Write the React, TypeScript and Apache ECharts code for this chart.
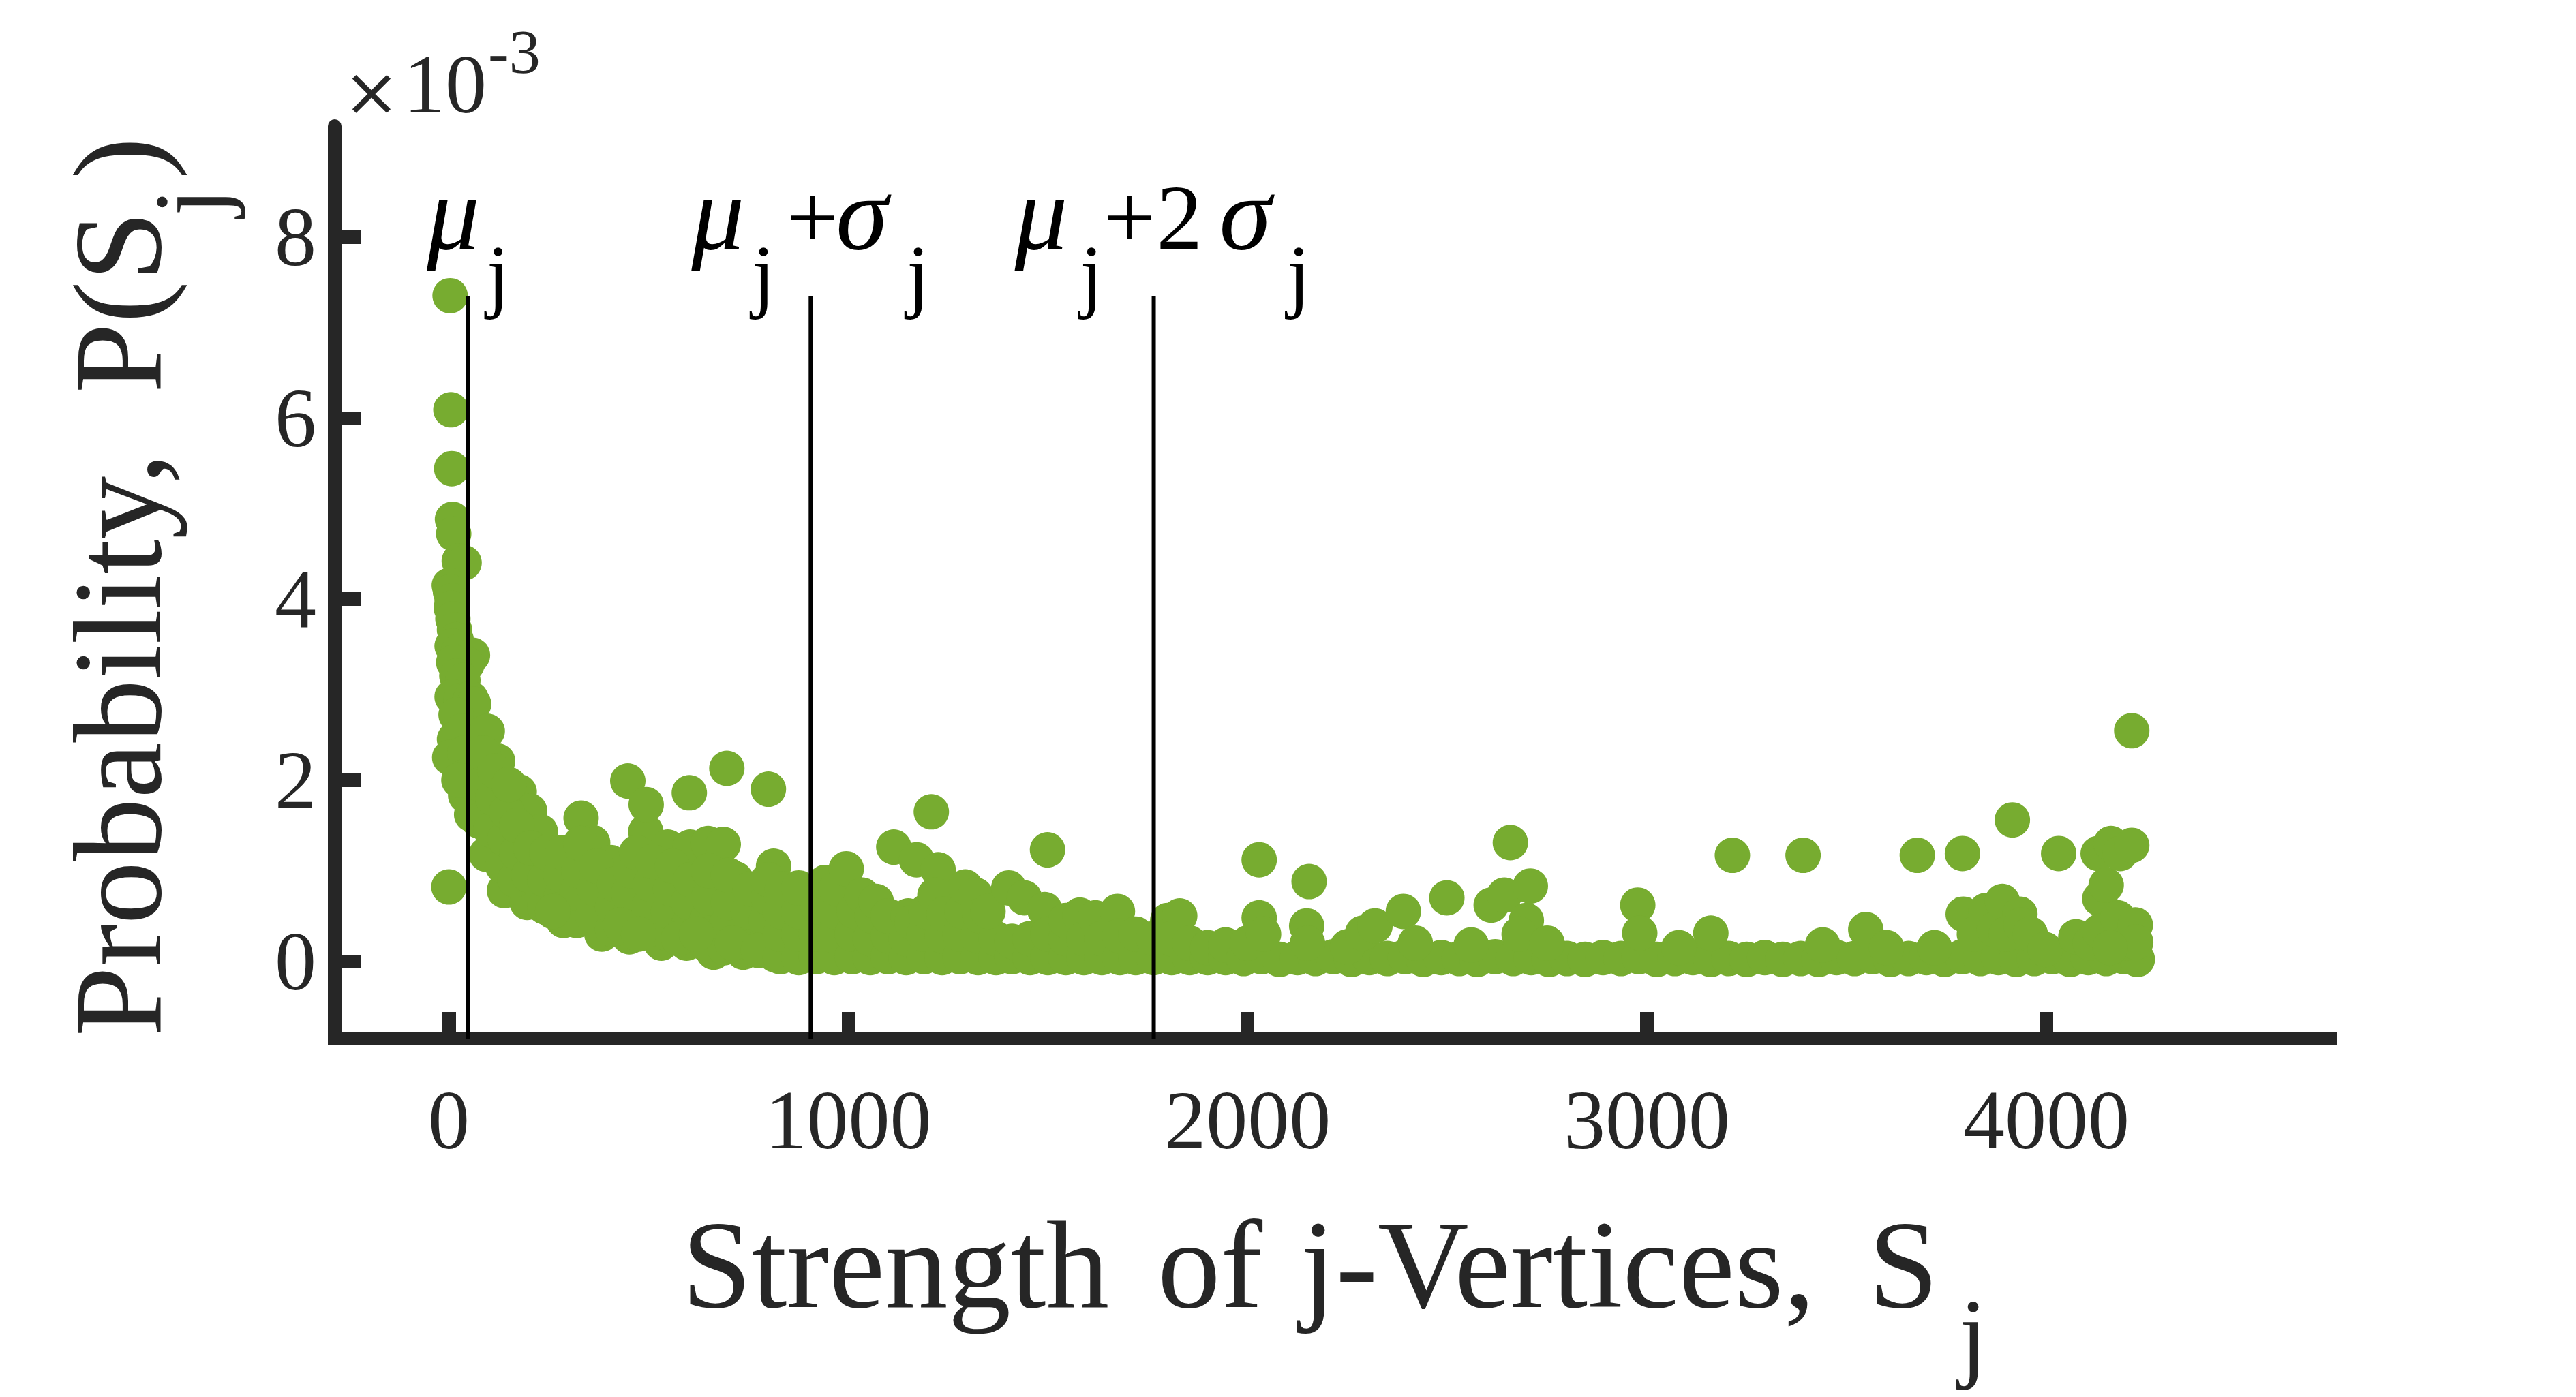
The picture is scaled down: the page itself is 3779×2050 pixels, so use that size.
import React, { useEffect, useRef } from "react";
import * as echarts from "echarts";

// ---------------- data ----------------
const xTickValues = [0, 1000, 2000, 3000, 4000];
const yTickValues = [0, 2, 4, 6, 8]; // ×10^-3
const xRange = [-286, 4712];
const yRange = [-0.854, 9.223];
const muJ = 47;
const sigmaJ = 859;
const lineTopValue = 7.35;

// [strength S_j, probability P(S_j) ×10^-3]
const headColumn = [
  [3, 7.35], [5, 6.09], [7, 5.44], [9, 4.88], [12, 4.72], [26, 4.42], [38, 4.4], [1, 4.15],
  [4, 4.08], [8, 3.98], [6, 3.9], [10, 3.78], [14, 3.66], [18, 3.55], [8, 3.48], [24, 3.42],
  [59, 3.38], [45, 3.28], [12, 3.3], [20, 3.15], [35, 3.1], [8, 2.92], [30, 2.88], [55, 2.9],
  [62, 2.84], [18, 2.72], [31, 2.54], [14, 2.45], [2, 2.25], [40, 2.3], [70, 2.15], [45, 2.05],
  [57, 1.83], [42, 1.83], [57, 1.62], [25, 2.0], [0, 0.82],
];

const decayBand = [
  [96, 2.54], [122, 2.21], [176, 1.87], [202, 1.66], [229, 1.43], [331, 1.58], [360, 1.31],
  [405, 1.09], [493, 1.43], [548, 1.26], [604, 1.26], [649, 1.3], [687, 1.29], [717, 0.91],
  [813, 1.05],
  [94, 1.18], [139, 0.78], [196, 0.65], [287, 0.45], [383, 0.3], [452, 0.27], [532, 0.2],
  [595, 0.2], [663, 0.1], [737, 0.1], [817, 0.07],
  [75, 1.55], [80, 1.95], [85, 2.3], [105, 1.45], [110, 1.8], [115, 2.1],
  [135, 1.05], [140, 1.35], [145, 1.65], [150, 1.95], [165, 0.9], [170, 1.2], [170, 1.5],
  [200, 0.95], [205, 1.25], [240, 0.6], [240, 0.9], [245, 1.2], [280, 0.7], [280, 0.95],
  [285, 1.2], [320, 0.45], [320, 0.75], [325, 1.0], [330, 1.3], [360, 0.5], [365, 0.8],
  [370, 1.05], [410, 0.35], [410, 0.6], [415, 0.85], [450, 0.5], [450, 0.75], [455, 1.0],
  [470, 1.2], [500, 0.35], [500, 0.6], [505, 0.85], [510, 1.1], [550, 0.3], [550, 0.55],
  [555, 0.8], [560, 1.05], [600, 0.4], [600, 0.65], [605, 0.9], [640, 0.2], [645, 0.45],
  [650, 0.7], [650, 1.0], [690, 0.15], [695, 0.4], [700, 0.65], [700, 0.95], [750, 0.3],
  [750, 0.55], [755, 0.8], [790, 0.2], [795, 0.45], [800, 0.7], [800, 0.9],
  [260, 0.55], [430, 0.4], [475, 0.3], [575, 0.25], [620, 0.3], [710, 0.2], [775, 0.12],
];

const decayOutliers = [[448, 1.99], [494, 1.73], [602, 1.86], [696, 2.13], [800, 1.9]];

const midBand = [
  [830, 0.05], [830, 0.3], [830, 0.55], [835, 0.8], [876, 0.04], [876, 0.3], [876, 0.55],
  [876, 0.81], [920, 0.05], [920, 0.3], [925, 0.6], [942, 0.87], [965, 0.04], [965, 0.28],
  [965, 0.55], [970, 0.8], [995, 1.02], [1010, 0.05], [1010, 0.3], [1015, 0.55], [1035, 0.73],
  [1055, 0.04], [1055, 0.25], [1060, 0.5], [1070, 0.66], [1100, 0.05], [1100, 0.28],
  [1100, 0.5], [1114, 1.26], [1171, 1.12], [1208, 1.65], [1225, 1.01], [1145, 0.04],
  [1145, 0.25], [1150, 0.5], [1160, 0.43], [1190, 0.05], [1190, 0.3], [1195, 0.55],
  [1217, 0.73], [1235, 0.04], [1235, 0.28], [1240, 0.52], [1280, 0.05], [1280, 0.3],
  [1285, 0.55], [1293, 0.82], [1319, 0.73], [1325, 0.04], [1325, 0.28], [1330, 0.5],
  [1370, 0.04], [1370, 0.25], [1350, 0.55], [1402, 0.81], [1410, 0.05], [1410, 0.22],
  [1441, 0.7], [1455, 0.04], [1455, 0.25], [1492, 0.57], [1499, 1.23], [1500, 0.04],
  [1500, 0.3], [1545, 0.04], [1545, 0.25], [1545, 0.45], [1580, 0.51], [1590, 0.04],
  [1590, 0.25], [1619, 0.48], [1635, 0.04], [1635, 0.25], [1674, 0.55], [1680, 0.04],
  [1680, 0.28], [1720, 0.04], [1720, 0.3], [1765, 0.04], [1765, 0.25], [1800, 0.45],
  [1830, 0.5], [1810, 0.04], [1810, 0.25], [1855, 0.04], [1855, 0.2], [1900, 0.04],
  [1900, 0.15], [1945, 0.04], [1945, 0.18],
];

const tailBaseline = [
  [1990, 0.03], [2035, 0.05], [2080, 0.02], [2125, 0.04], [2170, 0.03], [2215, 0.05],
  [2260, 0.02], [2305, 0.04], [2350, 0.03], [2395, 0.05], [2440, 0.02], [2485, 0.04],
  [2530, 0.03], [2575, 0.02], [2620, 0.05], [2665, 0.03], [2710, 0.04], [2755, 0.02],
  [2800, 0.03], [2845, 0.02], [2890, 0.04], [2935, 0.03], [2980, 0.05], [3025, 0.02],
  [3070, 0.03], [3115, 0.04], [3160, 0.02], [3205, 0.03], [3250, 0.02], [3295, 0.04],
  [3340, 0.02], [3385, 0.03], [3430, 0.02], [3475, 0.04], [3520, 0.03], [3565, 0.05],
  [3610, 0.02], [3655, 0.03], [3700, 0.04], [3745, 0.02], [3790, 0.05], [3835, 0.03],
  [3880, 0.04], [3925, 0.02], [3970, 0.03], [4015, 0.05], [4060, 0.02], [4105, 0.04],
  [4150, 0.03], [4195, 0.05], [4228, 0.02],
];

const tailBumps = [
  [2000, 0.2], [2029, 0.48], [2040, 0.3], [2029, 1.12], [2148, 0.39], [2150, 0.2],
  [2154, 0.88], [2250, 0.16], [2288, 0.31], [2319, 0.39], [2390, 0.55], [2420, 0.2],
  [2499, 0.7], [2560, 0.18], [2610, 0.62], [2643, 0.73], [2658, 1.31], [2698, 0.45],
  [2708, 0.83], [2680, 0.3], [2750, 0.2], [2977, 0.62], [2982, 0.31], [3080, 0.15],
  [3160, 0.31], [3214, 1.17], [3391, 1.17], [3440, 0.18], [3548, 0.35], [3600, 0.15],
  [3677, 1.17], [3720, 0.15], [3790, 1.19], [3792, 0.52], [3820, 0.3], [3849, 0.56],
  [3870, 0.35], [3890, 0.66], [3900, 0.3], [3915, 1.56], [3934, 0.52], [3937, 0.4],
  [3960, 0.3], [3997, 0.13], [4031, 1.19], [4074, 0.27], [4110, 0.2], [4130, 1.19],
  [4134, 0.69], [4134, 0.33], [4150, 0.84], [4162, 1.3], [4179, 0.48], [4185, 1.19],
  [4200, 0.2], [4214, 2.545], [4214, 1.28], [4223, 0.4], [4224, 0.21], [4160, 0.15],
];

const yTitleParts = ["Probability,", "P(S", "j", ")"];
const xTitleParts = ["Strength", "of", "j-Vertices,", "S", "j"];
const exponentParts = ["×", "10", "-3"];
const annotationParts = [
  ["μ", "j"],
  ["μ", "j", "+", "σ", "j"],
  ["μ", "j", "+", "2", "σ", "j"],
];
const annotationValues = [muJ, muJ + sigmaJ, muJ + 2 * sigmaJ];

// ---------------- layout / styles ----------------
const W = 3779;
const H = 2050;
const FONT = "'Liberation Serif', 'Times New Roman', serif";
const FONT_X = "'DejaVu Serif', serif";
const DARK = "#262626";
const GREEN = "#77AC30";
const C = 0.3375; // central-baseline offset (em)

// piece kinds: g = greek italic, n = normal, s = subscript
const annotationLayout = [
  [[-60, "g"], [28, "s"]],
  [[-175, "g"], [-86, "s"], [-35, "n"], [37, "g"], [141, "s"]],
  [[-204, "g"], [-108, "s"], [-74, "n"], [4, "n"], [96, "g"], [196, "s"]],
];

function txt(
  pos: number,
  baseline: number,
  text: string,
  size: number,
  opts: { italic?: boolean; color?: string; rot?: boolean; family?: string } = {}
) {
  const mid = baseline - C * size;
  return {
    type: "text",
    silent: true,
    z: 100,
    x: opts.rot ? mid : pos,
    y: opts.rot ? pos : mid,
    rotation: opts.rot ? Math.PI / 2 : 0,
    style: {
      text,
      font: `${opts.italic ? "italic " : ""}${size}px ${opts.family || FONT}`,
      fill: opts.color || DARK,
      textAlign: "left",
      textVerticalAlign: "middle",
      verticalAlign: "middle",
    },
  };
}

export default function App() {
  const ref = useRef<HTMLDivElement>(null);

  useEffect(() => {
    if (!ref.current) return;
    const chart = echarts.init(ref.current, null, { renderer: "svg", width: W, height: H });

    const allPoints = [
      ...headColumn,
      ...decayBand,
      ...decayOutliers,
      ...midBand,
      ...tailBaseline,
      ...tailBumps,
    ];

    const lineSeries = annotationValues.map((v) => ({
      type: "line",
      data: [
        [v, yRange[0]],
        [v, lineTopValue],
      ],
      symbol: "none",
      showSymbol: false,
      silent: true,
      z: 5,
      lineStyle: { color: "#000", width: 6 },
      animation: false,
    }));

    chart.setOption({
      animation: false,
      backgroundColor: "#ffffff",
      grid: { left: 491, top: 185, right: W - 3419, bottom: H - 1524, containLabel: false },
      xAxis: {
        type: "value",
        min: xRange[0],
        max: xRange[1],
        axisLine: { show: true, onZero: false, lineStyle: { color: DARK, width: 20, cap: "square" } },
        axisTick: {
          show: true,
          inside: true,
          length: 39,
          customValues: xTickValues,
          lineStyle: { color: DARK, width: 20 },
        },
        axisLabel: {
          show: true,
          customValues: xTickValues,
          formatter: (v: number) => String(v),
          color: DARK,
          fontFamily: FONT,
          fontSize: 122,
          margin: 58,
        },
        splitLine: { show: false },
      },
      yAxis: {
        type: "value",
        min: yRange[0],
        max: yRange[1],
        axisLine: { show: true, onZero: false, lineStyle: { color: DARK, width: 20 } },
        axisTick: {
          show: true,
          inside: true,
          length: 39,
          customValues: yTickValues,
          lineStyle: { color: DARK, width: 20 },
        },
        axisLabel: {
          show: true,
          customValues: yTickValues,
          formatter: (v: number) => String(v),
          color: DARK,
          fontFamily: FONT,
          fontSize: 122,
          margin: 27,
          padding: [20, 0, 0, 0],
        },
        splitLine: { show: false },
      },
      series: [
        {
          type: "scatter",
          data: allPoints,
          symbol: "circle",
          symbolSize: 52,
          itemStyle: { color: GREEN, opacity: 1 },
          silent: true,
          z: 2,
        },
        ...lineSeries,
      ],
    });

    const graphics: any[] = [];
    // y-axis title (rotated)
    graphics.push(txt(1521, 235, yTitleParts[0], 185, { rot: true }));
    graphics.push(txt(577, 235, yTitleParts[1], 185, { rot: true }));
    graphics.push(txt(317, 328, yTitleParts[2], 148, { rot: true }));
    graphics.push(txt(263, 235, yTitleParts[3], 185, { rot: true }));
    // x-axis title
    graphics.push(txt(1000, 1918, xTitleParts[0], 185));
    graphics.push(txt(1698, 1918, xTitleParts[1], 185));
    graphics.push(txt(1908, 1918, xTitleParts[2], 185));
    graphics.push(txt(2741, 1918, xTitleParts[3], 185));
    graphics.push(txt(2874, 2008, xTitleParts[4], 148));
    // exponent
    graphics.push(txt(503, 168, exponentParts[0], 100, { family: FONT_X }));
    graphics.push(txt(592, 165, exponentParts[1], 122));
    graphics.push(txt(716, 107, exponentParts[2], 92));

    // annotations
    annotationValues.forEach((v, i) => {
      const p = chart.convertToPixel({ gridIndex: 0 }, [v, lineTopValue]) as number[];
      const cx = p[0];
      const top = p[1];
      annotationParts[i].forEach((t, k) => {
        const [dx, kind] = annotationLayout[i][k] as [number, string];
        if (kind === "g") graphics.push(txt(cx + dx, top - 69, t, 155, { italic: true, color: "#000" }));
        else if (kind === "n") graphics.push(txt(cx + dx, top - 69, t, 135, { color: "#000" }));
        else graphics.push(txt(cx + dx, top + 9, t, 120, { color: "#000" }));
      });
    });

    chart.setOption({ graphic: graphics });

    return () => {
      chart.dispose();
    };
  }, []);

  return (
    <div
      ref={ref}
      style={{ position: "fixed", left: 0, top: 0, width: W, height: H, background: "#fff" }}
    />
  );
}
